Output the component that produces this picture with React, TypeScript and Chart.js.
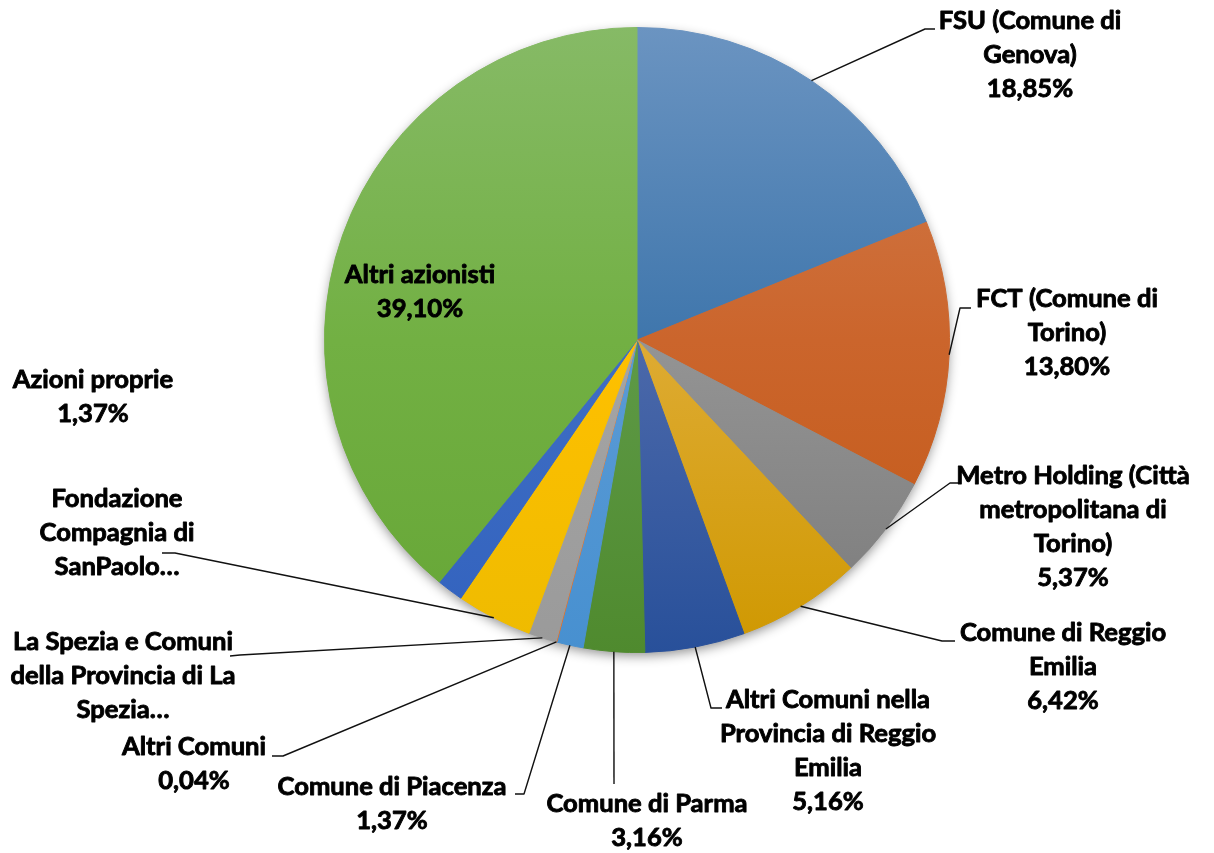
import React, { useEffect, useRef } from "react";
import { Chart, registerables } from "chart.js";
Chart.register(...registerables);

// ---- data ----
const categories = [
  "FSU (Comune di\nGenova)",
  "FCT (Comune di\nTorino)",
  "Metro Holding (Città\nmetropolitana di\nTorino)",
  "Comune di Reggio\nEmilia",
  "Altri Comuni nella\nProvincia di Reggio\nEmilia",
  "Comune di Parma",
  "Comune di Piacenza",
  "Altri Comuni",
  "La Spezia e Comuni\ndella Provincia di La\nSpezia…",
  "Fondazione\nCompagnia di\nSanPaolo…",
  "Azioni proprie",
  "Altri azionisti",
];
const shares = [18.85, 13.8, 5.37, 6.42, 5.16, 3.16, 1.37, 0.04, 1.45, 3.91, 1.37, 39.1];
const showValue = [true, true, true, true, true, true, true, true, false, false, true, true];

// ---- styles ----
const topColors = ["#6B94C1", "#D27E50", "#A0A0A0", "#E5B544", "#5874B2", "#6AA050", "#6BA8DE", "#ED7D31", "#ADADAD", "#FFC935", "#4F7DCC", "#86BA66"];
const midColors = ["#3F76AC", "#CB652C", "#949494", "#DEAB33", "#4C69AA", "#5E9A47", "#5B9BD5", "#ED7D31", "#A5A5A5", "#FFC000", "#3F6EC4", "#72B043"];
const bottomColors = ["#2F64A0", "#C25815", "#7A7A7A", "#CF9800", "#28509A", "#4F8A2E", "#4790D0", "#E0702A", "#9A9A9A", "#EEBB00", "#3262BE", "#66A636"];

// ---- label layout (canvas px): text centre x, first baseline y, leader elbow and end ----
const labelX = [1030, 1067, 1073, 1063, 828, 647, 392, 194, 123, 117, 93, 420];
const labelY = [29, 307, 484, 641, 708, 812, 795, 755, 650, 507, 388, 283];
const leaderElbow: (number[] | null)[] = [
  [925, 29], [960, 308], [950, 483], [942, 641], [711, 708], [614, 784],
  [524, 794], [283, 756], [240, 655], [175, 553], null, null,
];
const leaderEnd: (number[] | null)[] = [
  [935, 29], [971, 308], [959, 483], [955, 641], [722, 708], [614, 784],
  [515, 794], [272, 756], [230, 656], [162, 553], null, null,
];
const LINE_H = 34;

const fmt = (v: number) => v.toFixed(2).replace(".", ",") + "%";

const shadowPlugin = {
  id: "pieShadow",
  beforeDatasetsDraw(chart: any) {
    const arc = chart.getDatasetMeta(0).data[0];
    if (!arc) return;
    const ctx = chart.ctx;
    ctx.save();
    ctx.shadowColor = "rgba(0,0,0,0.45)";
    ctx.shadowBlur = 12;
    ctx.shadowOffsetY = 4;
    ctx.fillStyle = "#888888";
    ctx.beginPath();
    ctx.arc(arc.x, arc.y, arc.outerRadius - 1, 0, Math.PI * 2);
    ctx.fill();
    ctx.restore();
  },
};

const labelPlugin = {
  id: "pieLabels",
  afterDatasetsDraw(chart: any) {
    const ctx = chart.ctx;
    const meta = chart.getDatasetMeta(0);
    ctx.save();
    ctx.font = "bold 100px Lato";
    const w = ctx.measureText("Comune di Piacenza").width;
    const size = (100 * 229) / w;
    ctx.font = `bold ${size.toFixed(2)}px Lato, "DejaVu Sans", sans-serif`;
    ctx.textAlign = "center";
    ctx.textBaseline = "alphabetic";
    ctx.lineJoin = "round";
    meta.data.forEach((arc: any, i: number) => {
      const { x, y, startAngle, endAngle, outerRadius } = arc.getProps(
        ["x", "y", "startAngle", "endAngle", "outerRadius"],
        true
      );
      const mid = (startAngle + endAngle) / 2;
      const sx = x + Math.cos(mid) * outerRadius;
      const sy = y + Math.sin(mid) * outerRadius;
      const el = leaderElbow[i];
      const en = leaderEnd[i];
      if (el && en) {
        ctx.strokeStyle = "#111111";
        ctx.lineWidth = 1.4;
        ctx.beginPath();
        ctx.moveTo(sx, sy);
        ctx.lineTo(el[0], el[1]);
        ctx.lineTo(en[0], en[1]);
        ctx.stroke();
      }
      const lines = categories[i].split("\n");
      if (showValue[i]) lines.push(fmt(shares[i]));
      ctx.fillStyle = "#000000";
      ctx.strokeStyle = "#000000";
      ctx.lineWidth = 0.9;
      lines.forEach((ln, k) => {
        ctx.fillText(ln, labelX[i], labelY[i] + k * LINE_H);
        ctx.strokeText(ln, labelX[i], labelY[i] + k * LINE_H);
      });
    });
    ctx.restore();
  },
};

export default function App() {
  const ref = useRef<HTMLCanvasElement | null>(null);
  useEffect(() => {
    if (!ref.current) return;
    const grad = (c: any) => {
      const chart = c.chart;
      const area = chart.chartArea;
      const i = c.dataIndex;
      if (!area) return midColors[i];
      const g = chart.ctx.createLinearGradient(0, area.top, 0, area.bottom);
      g.addColorStop(0, topColors[i]);
      g.addColorStop(0.5, midColors[i]);
      g.addColorStop(1, bottomColors[i]);
      return g;
    };
    const chart = new Chart(ref.current, {
      type: "pie",
      data: {
        labels: categories.map((c) => c.replace(/\n/g, " ")),
        datasets: [
          {
            data: shares,
            backgroundColor: grad,
            borderColor: grad,
            borderWidth: 1,
          },
        ],
      },
      options: {
        responsive: false,
        animation: false,
        layout: { padding: { left: 324, right: 264, top: 27, bottom: 200 } },
        plugins: { legend: { display: false }, tooltip: { enabled: false } },
        events: [],
      },
      plugins: [shadowPlugin, labelPlugin],
    });
    return () => chart.destroy();
  }, []);
  return (
    <div style={{ position: "fixed", left: 0, top: 0, width: 1214, height: 853, background: "#ffffff" }}>
      <canvas ref={ref} width={1214} height={853} style={{ display: "block" }} />
    </div>
  );
}
